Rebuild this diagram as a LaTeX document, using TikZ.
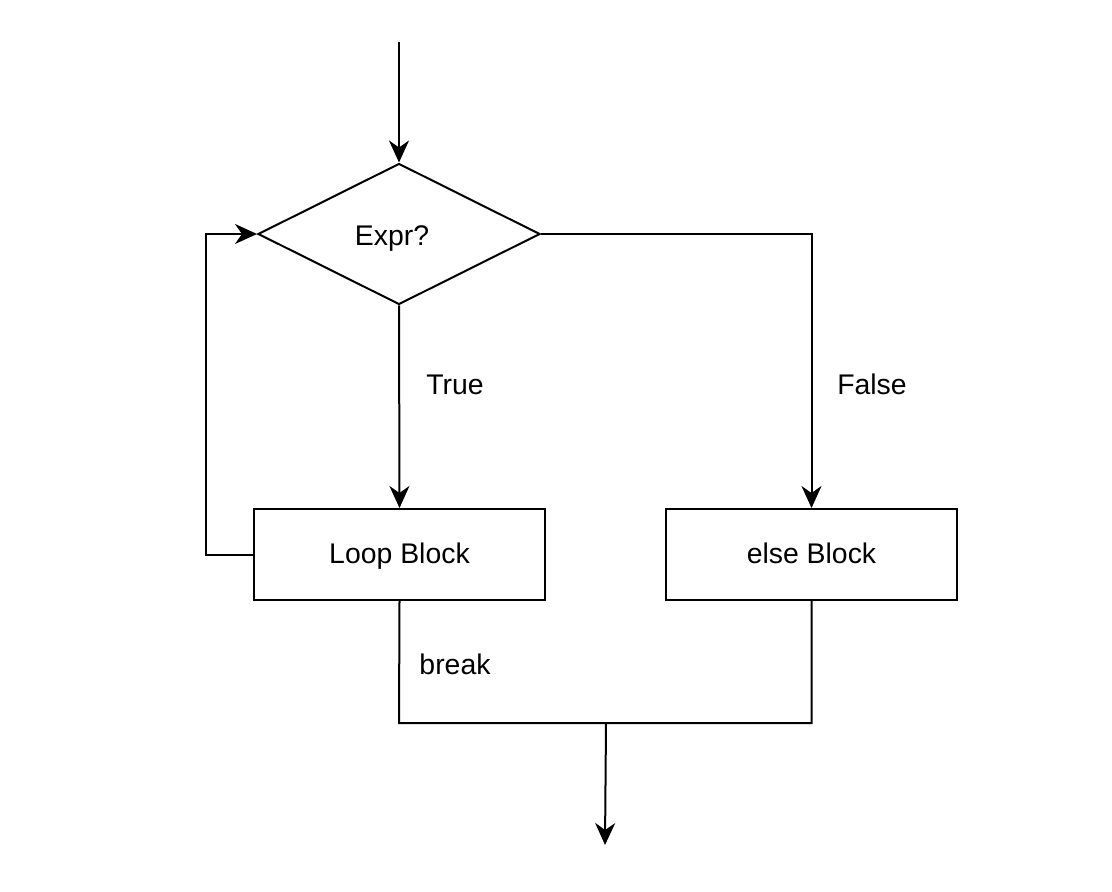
\documentclass[tikz,border=0pt]{standalone}
\usepackage{fontspec}
\setmainfont{Liberation Sans}
\usetikzlibrary{shapes.geometric, arrows.meta}

\tikzset{
  every node/.style={text height=0.96em, text depth=0.03em},
  block/.style={draw, line width=1pt, minimum width=145.5pt, minimum height=45.5pt, inner sep=0pt},
  decision/.style={draw, diamond, aspect=2, line width=1pt, minimum width=141pt, minimum height=70.5pt, inner sep=0pt},
  flow/.style={line width=1pt, -{Stealth[length=11pt, width=10pt, inset=3.5pt]}},
  line/.style={line width=1pt}
}

\begin{document}
\begin{tikzpicture}[x=0.5pt, y=-0.5pt, font=\fontsize{14.2pt}{17pt}\selectfont]
  \useasboundingbox (0, 0) rectangle (1112, 892);
  % nodes
  \node[decision] (expr) at (399, 234) {};
  \node (exprtext) at (392, 236) {Expr?};
  \node[block] (loop) at (399.5, 554.5) {Loop Block};
  \node[block] (else) at (811.5, 554.5) {else Block};
  \coordinate (start) at (399, 42);
  \coordinate (join) at (606, 723);
  \coordinate (stop) at (605, 845);
  % connectors
  \draw[flow] (start) -- (expr.north);
  \draw[flow] (expr.south) -- (loop.north);
  \draw[flow] (expr.east) -| (else.north);
  \draw[flow] (loop.west) -- (206, 554.5) |- (expr.west);
  \draw[line] (loop.south) -- (399, 723) -| (else.south);
  \draw[flow] (join) -- (stop);
  % labels
  \node at (455, 385) {True};
  \node at (872, 385) {False};
  \node at (455, 665) {break};
\end{tikzpicture}
\end{document}
